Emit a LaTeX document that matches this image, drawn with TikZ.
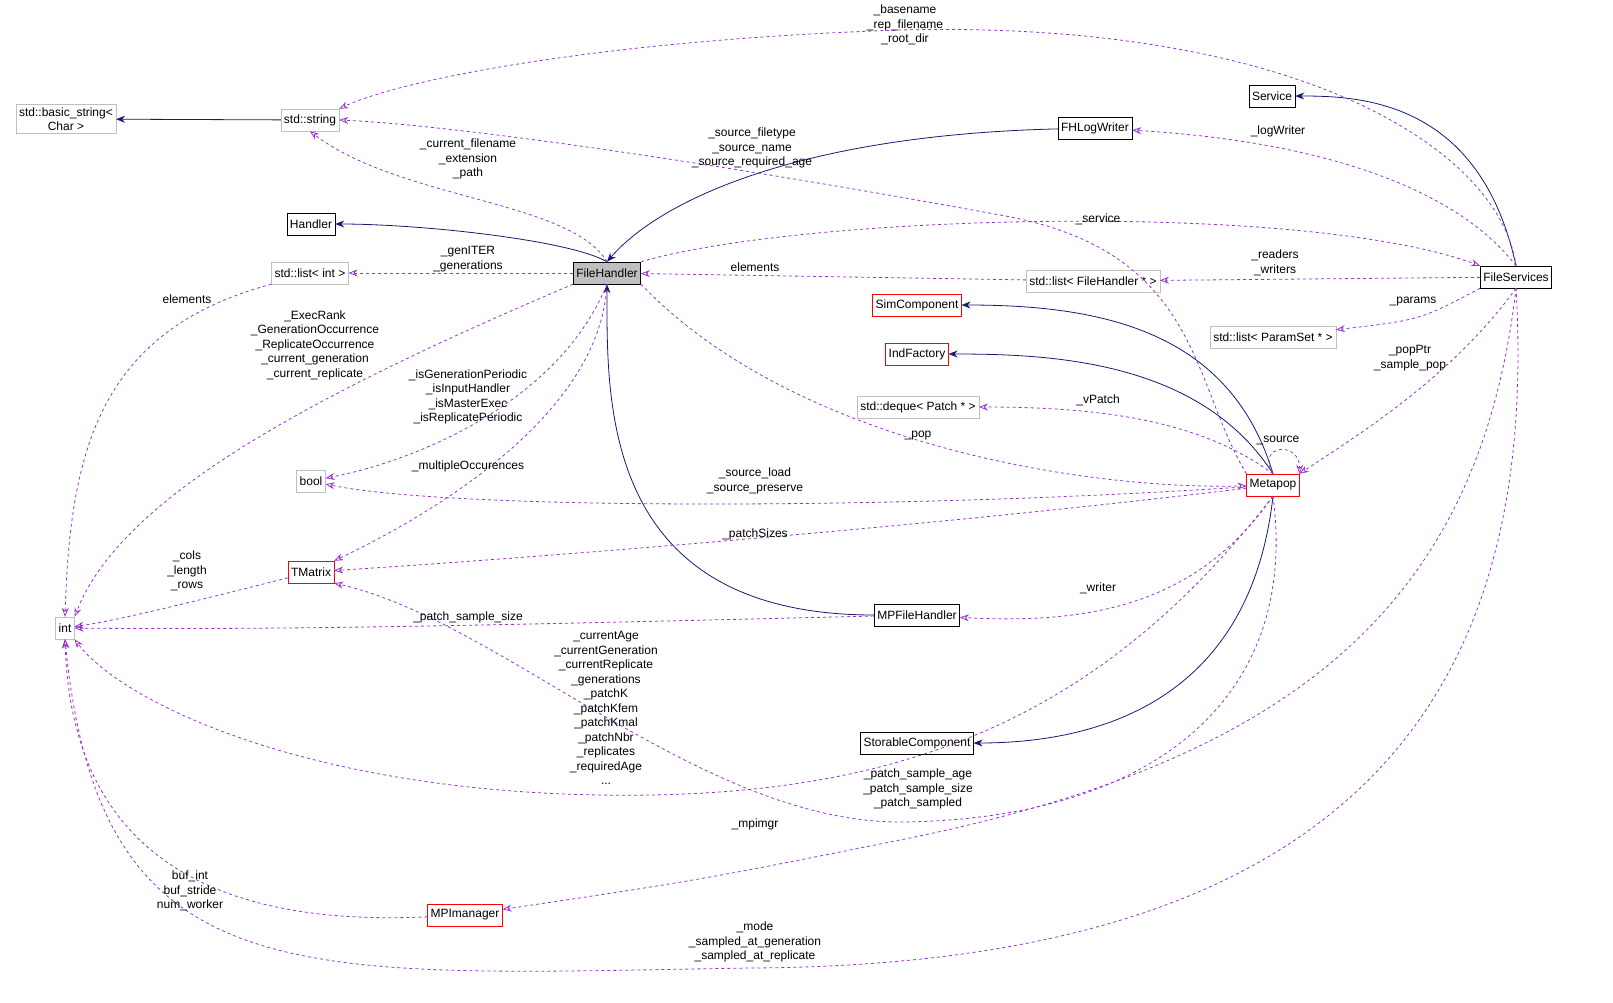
\documentclass[tikz,border=0pt]{standalone}
\usepackage{fontspec}
\setmainfont{Liberation Sans}
\usetikzlibrary{arrows.meta}
\definecolor{edgenavy}{RGB}{25,25,112}
\definecolor{edgeviolet}{RGB}{153,50,204}
\definecolor{boxgray}{RGB}{191,191,191}
\begin{document}
\begin{tikzpicture}[x=1pt,y=-1pt,
cls/.style={draw=black, fill=white, inner sep=3pt, minimum height=22pt, font=\fontsize{12}{14}\selectfont},
ext/.style={cls, draw=boxgray},
part/.style={cls, draw=red},
cur/.style={cls, fill=boxgray},
inh/.style={draw=edgenavy, thick, -{Stealth[length=9pt,width=7pt]}},
use/.style={draw=edgeviolet, thick, dashed, -{Stealth[open,length=9pt,width=7pt]}},
lbl/.style={align=center, inner sep=0pt, font=\fontsize{12}{14.5}\selectfont}]
    \useasboundingbox (0,0) rectangle (1613,1002);
    % Nodes
    \node (bstr) [ext, align=center, font=\fontsize{12}{14.5}\selectfont] at (66,119) {std::basic\_string<\\Char >};
    \node (str) [ext] at (310,120) {std::string};
    \node (hnd) [cls] at (311,224) {Handler};
    \node (lint) [ext] at (310,273) {std::list< int >};
    \node (fh) [cur] at (607,273) {FileHandler};
    \node (bool) [ext] at (311,481) {bool};
    \node (tmx) [part] at (311,572) {TMatrix};
    \node (int) [ext] at (65,628) {int};
    \node (mpi) [part] at (465,915) {MPImanager};
    \node (log) [cls] at (1095,128) {FHLogWriter};
    \node (svc) [cls] at (1272,96) {Service};
    \node (fs) [cls] at (1516,277) {FileServices};
    \node (lfh) [ext] at (1093,281) {std::list< FileHandler * >};
    \node (sim) [part] at (917,305) {SimComponent};
    \node (ind) [part] at (917,354) {IndFactory};
    \node (deq) [ext] at (918,407) {std::deque< Patch * >};
    \node (lps) [ext] at (1273,337) {std::list< ParamSet * >};
    \node (mp) [part] at (1273,485) {Metapop};
    \node (mpf) [cls] at (917,615) {MPFileHandler};
    \node (sto) [cls] at (917,743) {StorableComponent};

    % Inheritance
    \draw[inh] (str) -- (bstr);
    \draw[inh] (fh.north) .. controls (570,240) and (420,224) .. (hnd);
    \draw[inh] (log) .. controls (800,135) and (660,200) .. (fh.north);
    \draw[inh] (mpf.west) .. controls (600,615) and (607,400) .. (fh.south);
    \draw[inh] (fs.north) .. controls (1480,100) and (1360,96) .. (svc);
    \draw[inh] (mp.north) .. controls (1230,330) and (1100,305) .. (sim);
    \draw[inh] (mp.north) .. controls (1200,360) and (1050,354) .. (ind);
    \draw[inh] (mp.south) .. controls (1250,700) and (1100,743) .. (sto);

    % Usage
    \draw[use] (fs.north) .. controls (1500,150) and (1300,20) .. (900,30) .. controls (600,40) and (400,80) .. (str.north east);
    \draw[use] (fh.north) .. controls (570,200) and (400,200) .. (str.south);
    \draw[use] (mp.north west) .. controls (1190,380) and (1200,250) .. (1000,215) .. controls (700,160) and (450,125) .. (str.east);
    \draw[use] (fs.north) .. controls (1450,180) and (1300,140) .. (log);
    \draw[use] (fh.north east) .. controls (800,215) and (1300,200) .. (fs.north west);
    \draw[use] (fh) -- (lint);
    \draw[use] (lfh) -- (fh);
    \draw[use] (fs) -- (lfh);
    \draw[use] (fs.south west) .. controls (1420,320) .. (lps);
    \draw[use] (fs.south) .. controls (1450,380) and (1350,440) .. (mp.north east);
    \draw[use] (lint.south west) .. controls (100,330) and (70,450) .. (int.north);
    \draw[use] (fh.south west) .. controls (300,400) and (120,500) .. (int.north east);
    \draw[use] (fh.south) .. controls (560,400) and (420,460) .. (bool);
    \draw[use] (fh.south) .. controls (600,420) and (420,520) .. (tmx.north east);
    \draw[use] (fh.south east) .. controls (800,450) and (1100,490) .. (mp);
    \draw[use] (mp.north) .. controls (1200,420) and (1100,407) .. (deq);
    \draw[use] (mp.north) .. controls (1255,445) and (1300,440) .. (mp.north east);
    \draw[use] (mp) .. controls (900,510) and (450,510) .. (bool);
    \draw[use] (mp) .. controls (900,530) and (500,560) .. (tmx);
    \draw[use] (tmx) .. controls (200,600) and (120,620) .. (int);
    \draw[use] (mpf) .. controls (500,625) and (300,630) .. (int);
    \draw[use] (mp.south) .. controls (1200,600) and (1100,625) .. (mpf);
    \draw[use] (mp.south) .. controls (1100,720) and (900,800) .. (600,795) .. controls (300,790) and (120,700) .. (int.south east);
    \draw[use] (mp.south) .. controls (1300,700) and (1150,820) .. (900,822) .. controls (700,822) and (500,620) .. (tmx.south east);
    \draw[use] (fs.south) .. controls (1480,600) and (1300,760) .. (900,840) .. controls (700,880) .. (mpi);
    \draw[use] (mpi) .. controls (150,930) and (70,800) .. (int.south);
    \draw[use] (fs.south) .. controls (1540,700) and (1350,965) .. (750,968) .. controls (300,975) and (100,1000) .. (int.south);

    % Labels
    \node (l1) [lbl] at (905,25) {\_basename\\\_rep\_filename\\\_root\_dir};
    \node (l2) [lbl] at (468,159) {\_current\_filename\\\_extension\\\_path};
    \node (l3) [lbl] at (752,148) {\_source\_filetype\\\_source\_name\\\_source\_required\_age};
    \node (l4) [lbl] at (1278,131) {\_logWriter};
    \node (l5) [lbl] at (1098,219) {\_service};
    \node (l6) [lbl] at (468,259) {\_genITER\\\_generations};
    \node (l7) [lbl] at (755,267) {elements};
    \node (l8) [lbl] at (1275,263) {\_readers\\\_writers};
    \node (l9) [lbl] at (1413,302) {\_params};
    \node (l10) [lbl] at (1410,358) {\_popPtr\\\_sample\_pop};
    \node (l11) [lbl] at (187,299) {elements};
    \node (l12) [lbl] at (315,345) {\_ExecRank\\\_GenerationOccurrence\\\_ReplicateOccurrence\\\_current\_generation\\\_current\_replicate};
    \node (l13) [lbl] at (468,397) {\_isGenerationPeriodic\\\_isInputHandler\\\_isMasterExec\\\_isReplicatePeriodic};
    \node (l14) [lbl] at (468,466) {\_multipleOccurences};
    \node (l15) [lbl] at (918,436) {\_pop};
    \node (l16) [lbl] at (1098,400) {\_vPatch};
    \node (l17) [lbl] at (1278,440) {\_source};
    \node (l18) [lbl] at (755,481) {\_source\_load\\\_source\_preserve};
    \node (l19) [lbl] at (755,534) {\_patchSizes};
    \node (l20) [lbl] at (187,571) {\_cols\\\_length\\\_rows};
    \node (l21) [lbl] at (468,617) {\_patch\_sample\_size};
    \node (l22) [lbl] at (1098,588) {\_writer};
    \node (l23) [lbl] at (606,708) {\_currentAge\\\_currentGeneration\\\_currentReplicate\\\_generations\\\_patchK\\\_patchKfem\\\_patchKmal\\\_patchNbr\\\_replicates\\\_requiredAge\\...};
    \node (l24) [lbl] at (918,789) {\_patch\_sample\_age\\\_patch\_sample\_size\\\_patch\_sampled};
    \node (l25) [lbl] at (755,824) {\_mpimgr};
    \node (l26) [lbl] at (190,891) {buf\_int\\buf\_stride\\num\_worker};
    \node (l27) [lbl] at (755,942) {\_mode\\\_sampled\_at\_generation\\\_sampled\_at\_replicate};
\end{tikzpicture}
\end{document}
